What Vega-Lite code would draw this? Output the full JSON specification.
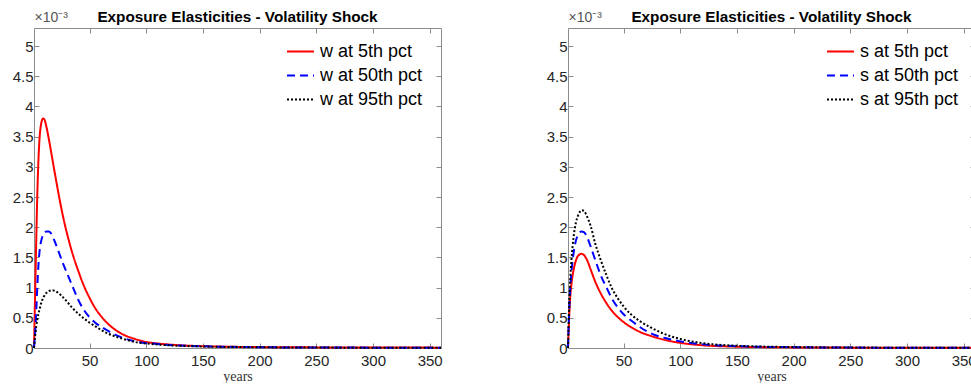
{
  "$schema": "https://vega.github.io/schema/vega-lite/v6.json",
  "background": "white",
  "padding": {"left": 12, "top": 9, "right": 0, "bottom": 0},
  "spacing": 127,
  "bounds": "flush",
  "config": {
    "font": "Liberation Sans",
    "view": {"stroke": null},
    "axis": {"grid": false, "domainColor": "#8c8c8c", "tickColor": "#8c8c8c", "labelColor": "#262626", "labelFont": "Liberation Sans", "labelFontSize": 15, "tickSize": -5, "domainWidth": 1, "tickWidth": 1},
    "title": {"font": "Liberation Sans", "fontSize": 15.3, "fontWeight": "bold", "color": "#000000", "offset": -15},
    "legend": {"orient": "none", "legendY": 9, "padding": 0, "title": null, "labelFont": "Liberation Sans", "labelFontSize": 18, "labelColor": "#000000", "symbolType": "stroke", "symbolSize": 729, "symbolStrokeWidth": 2, "rowPadding": -4, "labelOffset": 5}
  },
  "datasets": {
    "left": [
      {"year":1,"v":0,"s":"w at 5th pct"},{"year":2,"v":0.9,"s":"w at 5th pct"},{"year":3,"v":1.8,"s":"w at 5th pct"},{"year":4,"v":2.6,"s":"w at 5th pct"},{"year":5,"v":3.15,"s":"w at 5th pct"},{"year":6,"v":3.5,"s":"w at 5th pct"},{"year":7,"v":3.68,"s":"w at 5th pct"},{"year":8,"v":3.77,"s":"w at 5th pct"},{"year":9,"v":3.8,"s":"w at 5th pct"},{"year":10,"v":3.79,"s":"w at 5th pct"},{"year":12,"v":3.66,"s":"w at 5th pct"},{"year":14,"v":3.47,"s":"w at 5th pct"},{"year":17,"v":3.15,"s":"w at 5th pct"},{"year":20,"v":2.83,"s":"w at 5th pct"},{"year":24,"v":2.42,"s":"w at 5th pct"},{"year":28,"v":2.06,"s":"w at 5th pct"},{"year":32,"v":1.76,"s":"w at 5th pct"},{"year":36,"v":1.5,"s":"w at 5th pct"},{"year":40,"v":1.28,"s":"w at 5th pct"},{"year":45,"v":1.03,"s":"w at 5th pct"},{"year":50,"v":0.83,"s":"w at 5th pct"},{"year":55,"v":0.66,"s":"w at 5th pct"},{"year":60,"v":0.53,"s":"w at 5th pct"},{"year":70,"v":0.34,"s":"w at 5th pct"},{"year":80,"v":0.22,"s":"w at 5th pct"},{"year":90,"v":0.15,"s":"w at 5th pct"},{"year":100,"v":0.1,"s":"w at 5th pct"},{"year":110,"v":0.075,"s":"w at 5th pct"},{"year":120,"v":0.058,"s":"w at 5th pct"},{"year":135,"v":0.04,"s":"w at 5th pct"},{"year":150,"v":0.03,"s":"w at 5th pct"},{"year":175,"v":0.02,"s":"w at 5th pct"},{"year":200,"v":0.015,"s":"w at 5th pct"},{"year":250,"v":0.01,"s":"w at 5th pct"},{"year":300,"v":0.008,"s":"w at 5th pct"},{"year":360,"v":0.006,"s":"w at 5th pct"},
      {"year":1,"v":0,"s":"w at 50th pct"},{"year":2,"v":0.25,"s":"w at 50th pct"},{"year":3,"v":0.62,"s":"w at 50th pct"},{"year":4,"v":1.05,"s":"w at 50th pct"},{"year":5,"v":1.4,"s":"w at 50th pct"},{"year":6,"v":1.62,"s":"w at 50th pct"},{"year":8,"v":1.82,"s":"w at 50th pct"},{"year":10,"v":1.9,"s":"w at 50th pct"},{"year":12,"v":1.93,"s":"w at 50th pct"},{"year":14,"v":1.93,"s":"w at 50th pct"},{"year":16,"v":1.9,"s":"w at 50th pct"},{"year":19,"v":1.78,"s":"w at 50th pct"},{"year":23,"v":1.58,"s":"w at 50th pct"},{"year":27,"v":1.38,"s":"w at 50th pct"},{"year":31,"v":1.2,"s":"w at 50th pct"},{"year":35,"v":1.02,"s":"w at 50th pct"},{"year":40,"v":0.8,"s":"w at 50th pct"},{"year":45,"v":0.63,"s":"w at 50th pct"},{"year":50,"v":0.51,"s":"w at 50th pct"},{"year":55,"v":0.42,"s":"w at 50th pct"},{"year":63,"v":0.32,"s":"w at 50th pct"},{"year":75,"v":0.2,"s":"w at 50th pct"},{"year":90,"v":0.11,"s":"w at 50th pct"},{"year":110,"v":0.066,"s":"w at 50th pct"},{"year":130,"v":0.04,"s":"w at 50th pct"},{"year":150,"v":0.028,"s":"w at 50th pct"},{"year":200,"v":0.013,"s":"w at 50th pct"},{"year":250,"v":0.008,"s":"w at 50th pct"},{"year":300,"v":0.006,"s":"w at 50th pct"},{"year":360,"v":0.004,"s":"w at 50th pct"},
      {"year":1,"v":0,"s":"w at 95th pct"},{"year":2,"v":0.2,"s":"w at 95th pct"},{"year":3,"v":0.36,"s":"w at 95th pct"},{"year":4,"v":0.48,"s":"w at 95th pct"},{"year":6,"v":0.65,"s":"w at 95th pct"},{"year":8,"v":0.78,"s":"w at 95th pct"},{"year":10,"v":0.86,"s":"w at 95th pct"},{"year":13,"v":0.93,"s":"w at 95th pct"},{"year":17,"v":0.955,"s":"w at 95th pct"},{"year":20,"v":0.94,"s":"w at 95th pct"},{"year":25,"v":0.87,"s":"w at 95th pct"},{"year":30,"v":0.77,"s":"w at 95th pct"},{"year":35,"v":0.66,"s":"w at 95th pct"},{"year":40,"v":0.57,"s":"w at 95th pct"},{"year":45,"v":0.49,"s":"w at 95th pct"},{"year":50,"v":0.42,"s":"w at 95th pct"},{"year":56,"v":0.35,"s":"w at 95th pct"},{"year":60,"v":0.3,"s":"w at 95th pct"},{"year":70,"v":0.21,"s":"w at 95th pct"},{"year":78,"v":0.16,"s":"w at 95th pct"},{"year":90,"v":0.1,"s":"w at 95th pct"},{"year":100,"v":0.075,"s":"w at 95th pct"},{"year":120,"v":0.045,"s":"w at 95th pct"},{"year":150,"v":0.025,"s":"w at 95th pct"},{"year":200,"v":0.012,"s":"w at 95th pct"},{"year":250,"v":0.007,"s":"w at 95th pct"},{"year":300,"v":0.005,"s":"w at 95th pct"},{"year":360,"v":0.004,"s":"w at 95th pct"}
    ],
    "right": [
      {"year":1,"v":0,"s":"s at 5th pct"},{"year":2,"v":0.5,"s":"s at 5th pct"},{"year":3,"v":0.85,"s":"s at 5th pct"},{"year":4,"v":1.05,"s":"s at 5th pct"},{"year":6,"v":1.3,"s":"s at 5th pct"},{"year":8,"v":1.45,"s":"s at 5th pct"},{"year":10,"v":1.53,"s":"s at 5th pct"},{"year":13,"v":1.56,"s":"s at 5th pct"},{"year":15,"v":1.54,"s":"s at 5th pct"},{"year":18,"v":1.45,"s":"s at 5th pct"},{"year":21,"v":1.3,"s":"s at 5th pct"},{"year":25,"v":1.1,"s":"s at 5th pct"},{"year":30,"v":0.9,"s":"s at 5th pct"},{"year":35,"v":0.74,"s":"s at 5th pct"},{"year":40,"v":0.61,"s":"s at 5th pct"},{"year":45,"v":0.51,"s":"s at 5th pct"},{"year":50,"v":0.43,"s":"s at 5th pct"},{"year":57,"v":0.34,"s":"s at 5th pct"},{"year":64,"v":0.27,"s":"s at 5th pct"},{"year":74,"v":0.2,"s":"s at 5th pct"},{"year":85,"v":0.14,"s":"s at 5th pct"},{"year":100,"v":0.085,"s":"s at 5th pct"},{"year":120,"v":0.045,"s":"s at 5th pct"},{"year":150,"v":0.022,"s":"s at 5th pct"},{"year":200,"v":0.01,"s":"s at 5th pct"},{"year":250,"v":0.006,"s":"s at 5th pct"},{"year":300,"v":0.004,"s":"s at 5th pct"},{"year":360,"v":0.003,"s":"s at 5th pct"},
      {"year":1,"v":0,"s":"s at 50th pct"},{"year":2,"v":0.6,"s":"s at 50th pct"},{"year":3,"v":1.0,"s":"s at 50th pct"},{"year":4,"v":1.25,"s":"s at 50th pct"},{"year":6,"v":1.58,"s":"s at 50th pct"},{"year":8,"v":1.78,"s":"s at 50th pct"},{"year":10,"v":1.88,"s":"s at 50th pct"},{"year":13,"v":1.93,"s":"s at 50th pct"},{"year":15,"v":1.92,"s":"s at 50th pct"},{"year":18,"v":1.83,"s":"s at 50th pct"},{"year":21,"v":1.68,"s":"s at 50th pct"},{"year":25,"v":1.46,"s":"s at 50th pct"},{"year":30,"v":1.2,"s":"s at 50th pct"},{"year":35,"v":1.0,"s":"s at 50th pct"},{"year":40,"v":0.81,"s":"s at 50th pct"},{"year":45,"v":0.67,"s":"s at 50th pct"},{"year":50,"v":0.56,"s":"s at 50th pct"},{"year":57,"v":0.45,"s":"s at 50th pct"},{"year":65,"v":0.34,"s":"s at 50th pct"},{"year":77,"v":0.22,"s":"s at 50th pct"},{"year":90,"v":0.15,"s":"s at 50th pct"},{"year":100,"v":0.11,"s":"s at 50th pct"},{"year":120,"v":0.06,"s":"s at 50th pct"},{"year":150,"v":0.03,"s":"s at 50th pct"},{"year":200,"v":0.013,"s":"s at 50th pct"},{"year":250,"v":0.007,"s":"s at 50th pct"},{"year":300,"v":0.005,"s":"s at 50th pct"},{"year":360,"v":0.004,"s":"s at 50th pct"},
      {"year":1,"v":0,"s":"s at 95th pct"},{"year":2,"v":0.7,"s":"s at 95th pct"},{"year":3,"v":1.15,"s":"s at 95th pct"},{"year":4,"v":1.45,"s":"s at 95th pct"},{"year":6,"v":1.85,"s":"s at 95th pct"},{"year":8,"v":2.08,"s":"s at 95th pct"},{"year":10,"v":2.2,"s":"s at 95th pct"},{"year":13,"v":2.28,"s":"s at 95th pct"},{"year":15,"v":2.27,"s":"s at 95th pct"},{"year":18,"v":2.17,"s":"s at 95th pct"},{"year":21,"v":2.02,"s":"s at 95th pct"},{"year":25,"v":1.73,"s":"s at 95th pct"},{"year":30,"v":1.45,"s":"s at 95th pct"},{"year":35,"v":1.2,"s":"s at 95th pct"},{"year":40,"v":0.98,"s":"s at 95th pct"},{"year":45,"v":0.82,"s":"s at 95th pct"},{"year":50,"v":0.69,"s":"s at 95th pct"},{"year":57,"v":0.55,"s":"s at 95th pct"},{"year":64,"v":0.45,"s":"s at 95th pct"},{"year":74,"v":0.34,"s":"s at 95th pct"},{"year":85,"v":0.24,"s":"s at 95th pct"},{"year":100,"v":0.15,"s":"s at 95th pct"},{"year":120,"v":0.08,"s":"s at 95th pct"},{"year":150,"v":0.037,"s":"s at 95th pct"},{"year":200,"v":0.015,"s":"s at 95th pct"},{"year":250,"v":0.008,"s":"s at 95th pct"},{"year":300,"v":0.005,"s":"s at 95th pct"},{"year":360,"v":0.004,"s":"s at 95th pct"}
    ]
  },
  "hconcat": [
    {
      "width": 407, "height": 320,
      "title": "Exposure Elasticities - Volatility Shock",
      "data": {"name": "left"},
      "layer": [
        {
          "mark": {"type": "line", "strokeWidth": 2, "interpolate": "monotone"},
          "encoding": {
            "x": {"field": "year", "type": "quantitative", "scale": {"domain": [1, 360], "nice": false, "zero": false},
                  "axis": {"title": "years", "values": [50,100,150,200,250,300,350], "titleFont": "Liberation Serif", "titleFontWeight": "normal", "titleFontSize": 14, "titleColor": "#333333", "labelPadding": 10, "titlePadding": 1}},
            "y": {"field": "v", "type": "quantitative", "scale": {"domain": [0, 5.3], "nice": false},
                  "axis": {"values": [0,0.5,1,1.5,2,2.5,3,3.5,4,4.5,5], "format": "~g", "labelPadding": 6, "title": "×10⁻³", "titleAngle": 0, "titleAlign": "left", "titleX": 0, "titleY": -7, "titleBaseline": "alphabetic", "titleFontWeight": "normal", "titleFontSize": 14, "titleColor": "#555555", "titleFont": "Liberation Sans"}},
            "color": {"field": "s", "type": "nominal", "scale": {"domain": ["w at 5th pct","w at 50th pct","w at 95th pct"], "range": ["#ff0000","#0000ff","#000000"]}, "legend": {"legendX": 252}},
            "strokeDash": {"field": "s", "type": "nominal", "scale": {"domain": ["w at 5th pct","w at 50th pct","w at 95th pct"], "range": [[1,0],[8,5],[2,2]]}}
          }
        },
        {
          "mark": {"type": "line", "opacity": 0},
          "encoding": {
            "x": {"field": "year", "type": "quantitative", "scale": {"domain": [1, 360], "nice": false, "zero": false},
                  "axis": {"orient": "top", "labels": false, "title": null, "values": [50,100,150,200,250,300,350]}},
            "y": {"field": "v", "type": "quantitative", "scale": {"domain": [0, 5.3], "nice": false},
                  "axis": {"orient": "right", "labels": false, "title": null, "values": [0,0.5,1,1.5,2,2.5,3,3.5,4,4.5,5]}}
          }
        }
      ],
      "resolve": {"axis": {"x": "independent", "y": "independent"}}
    },
    {
      "width": 407, "height": 320,
      "title": "Exposure Elasticities - Volatility Shock",
      "data": {"name": "right"},
      "layer": [
        {
          "mark": {"type": "line", "strokeWidth": 2, "interpolate": "monotone"},
          "encoding": {
            "x": {"field": "year", "type": "quantitative", "scale": {"domain": [1, 360], "nice": false, "zero": false},
                  "axis": {"title": "years", "values": [50,100,150,200,250,300,350], "titleFont": "Liberation Serif", "titleFontWeight": "normal", "titleFontSize": 14, "titleColor": "#333333", "labelPadding": 10, "titlePadding": 1}},
            "y": {"field": "v", "type": "quantitative", "scale": {"domain": [0, 5.3], "nice": false},
                  "axis": {"values": [0,0.5,1,1.5,2,2.5,3,3.5,4,4.5,5], "format": "~g", "labelPadding": 6, "title": "×10⁻³", "titleAngle": 0, "titleAlign": "left", "titleX": 0, "titleY": -7, "titleBaseline": "alphabetic", "titleFontWeight": "normal", "titleFontSize": 14, "titleColor": "#555555", "titleFont": "Liberation Sans"}},
            "color": {"field": "s", "type": "nominal", "scale": {"domain": ["s at 5th pct","s at 50th pct","s at 95th pct"], "range": ["#ff0000","#0000ff","#000000"]}, "legend": {"legendX": 258}},
            "strokeDash": {"field": "s", "type": "nominal", "scale": {"domain": ["s at 5th pct","s at 50th pct","s at 95th pct"], "range": [[1,0],[8,5],[2,2]]}}
          }
        },
        {
          "mark": {"type": "line", "opacity": 0},
          "encoding": {
            "x": {"field": "year", "type": "quantitative", "scale": {"domain": [1, 360], "nice": false, "zero": false},
                  "axis": {"orient": "top", "labels": false, "title": null, "values": [50,100,150,200,250,300,350]}},
            "y": {"field": "v", "type": "quantitative", "scale": {"domain": [0, 5.3], "nice": false},
                  "axis": {"orient": "right", "labels": false, "title": null, "values": [0,0.5,1,1.5,2,2.5,3,3.5,4,4.5,5]}}
          }
        }
      ],
      "resolve": {"axis": {"x": "independent", "y": "independent"}}
    }
  ],
  "resolve": {"scale": {"color": "independent", "strokeDash": "independent"}, "legend": {"color": "independent", "strokeDash": "independent"}}
}
